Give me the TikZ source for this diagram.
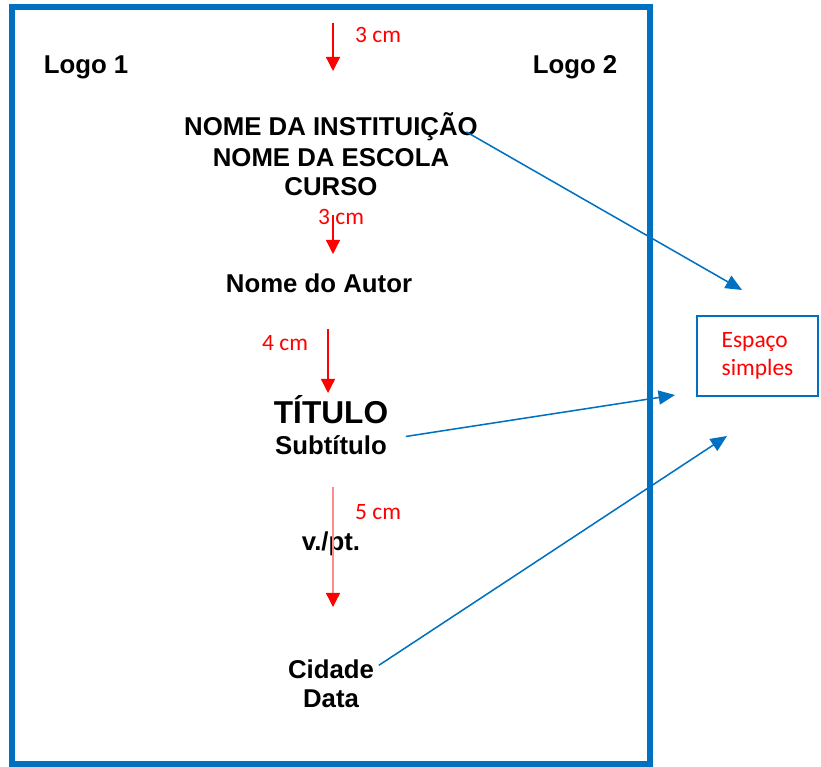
\documentclass[tikz,border=0pt]{standalone}
\usepackage{fontspec}
\setmainfont{Liberation Sans}
\newfontfamily\calibri{Carlito}
\usetikzlibrary{arrows.meta}
\definecolor{azul}{RGB}{0,112,192}

\begin{document}
\begin{tikzpicture}[x=0.03cm,y=-0.03cm,
  texto/.style={font=\fontsize{22}{26}\selectfont\bfseries,inner sep=0pt,anchor=base},
  medida/.style={font=\calibri\fontsize{20}{24}\selectfont,text=red,inner sep=0pt,anchor=base west},
  margem/.style={red,line width=1.1pt,-{Triangle[length=12pt,width=12pt]}},
  ligacao/.style={azul,line width=1.3pt,-{Triangle[length=14pt,width=12pt]}},
  caixa/.style={draw=azul,line width=1.3pt,minimum width=3.63cm,minimum height=2.4cm,align=left,
    font=\calibri\fontsize{20}{23.8}\selectfont,text=red}]

  \useasboundingbox (0,0) rectangle (821,767);
  \draw[azul,line width=4.3pt] (12,7) rectangle (650,764);

  \node[texto] at (86,74) (logo1) {Logo 1};
  \node[texto] at (575,74) (logo2) {Logo 2};

  \node[texto] at (331,136) (inst) {NOME DA INSTITUIÇÃO};
  \node[texto] at (331,167) (escola) {NOME DA ESCOLA};
  \node[texto] at (331,196) (curso) {CURSO};

  \node[texto] at (319,292) (autor) {Nome do Autor};

  \node[texto,font=\fontsize{27}{30}\selectfont\bfseries] at (331,423) (titulo) {TÍTULO};
  \node[texto] at (331,454) (sub) {Subtítulo};

  \node[texto] at (331,550) (vol) {v./pt.};

  \node[texto] at (331,678) (cidade) {Cidade};
  \node[texto] at (331,707) (data) {Data};

  \node[caixa] at (757.5,356) (espaco) {Espaço\\simples};

  \coordinate (m1a) at (333,23);
  \coordinate (m1b) at (333,71);
  \coordinate (m2a) at (333,215);
  \coordinate (m2b) at (333,254);
  \coordinate (m3a) at (328,329);
  \coordinate (m3b) at (328,393);
  \coordinate (m4a) at (333,487);
  \coordinate (m4b) at (333,607);

  \draw[margem] (m1a) -- (m1b);
  \draw[margem] (m2a) -- (m2b);
  \draw[margem] (m3a) -- (m3b);
  \draw[margem,draw=red!45,-{Triangle[length=12pt,width=12pt,color=red]}] (m4a) -- (m4b);

  \node[medida] at (355,43) (med1) {3 cm};
  \node[medida] at (318,225) (med2) {3 cm};
  \node[medida] at (262,350) (med3) {4 cm};
  \node[medida] at (355,519) (med4) {5 cm};

  \coordinate (e1) at (742,290);
  \coordinate (e2) at (675,395);
  \coordinate (e3) at (727,436);

  \draw[ligacao] ([xshift=-10pt,yshift=-4pt]inst.east) -- (e1);
  \draw[ligacao] ([xshift=16pt,yshift=7pt]sub.east) -- (e2);
  \draw[ligacao] ([xshift=4pt,yshift=3pt]cidade.east) -- (e3);
\end{tikzpicture}
\end{document}
